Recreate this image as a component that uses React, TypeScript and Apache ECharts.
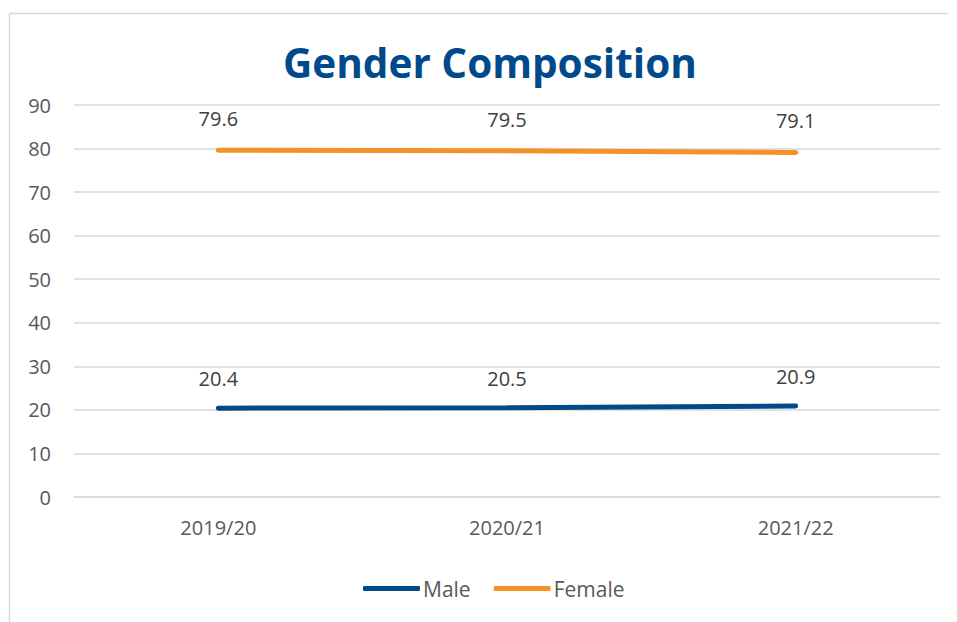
import React, { useEffect, useRef } from "react";
import * as echarts from "echarts";

const categories = ["2019/20", "2020/21", "2021/22"];
const maleValues = [20.4, 20.5, 20.9];
const femaleValues = [79.6, 79.5, 79.1];
const seriesNames = ["Male", "Female"];

const FONT = "'Open Sans', 'Noto Sans', sans-serif";

export default function App() {
  const ref = useRef<HTMLDivElement>(null);
  useEffect(() => {
    if (!ref.current) return;
    const chart = echarts.init(ref.current, null, { renderer: "svg" });
    chart.setOption({
      animation: false,
      backgroundColor: "#ffffff",
      title: {
        text: "Gender Composition",
        left: 278,
        top: 37,
        textStyle: { fontFamily: FONT, fontWeight: "bold", fontSize: 40.5, color: "#004A8C" },
      },
      graphic: [
        { type: "line", shape: { x1: 9.5, y1: 13.5, x2: 948, y2: 13.5 }, style: { stroke: "#d9d9d9", lineWidth: 1.5 } },
        { type: "line", shape: { x1: 9.5, y1: 13.5, x2: 9.5, y2: 622 }, style: { stroke: "#d9d9d9", lineWidth: 1.5 } },
      ],
      legend: {
        bottom: 18,
        left: 358,
        itemWidth: 57,
        itemHeight: 5,
        itemGap: 23,
        icon: "roundRect",
        textStyle: { fontFamily: FONT, fontSize: 21, color: "#595959", padding: [0, 0, 0, -2] },
        data: seriesNames,
      },
      grid: { left: 74, right: 17, top: 105, bottom: 125, containLabel: false },
      xAxis: {
        type: "category",
        data: categories,
        boundaryGap: true,
        axisLine: { lineStyle: { color: "#d9d9d9", width: 1.5 } },
        axisTick: { show: false },
        axisLabel: { margin: 20, fontFamily: FONT, fontSize: 20, color: "#595959" },
      },
      yAxis: {
        type: "value",
        min: 0,
        max: 90,
        interval: 10,
        axisLine: { show: false },
        axisTick: { show: false },
        splitLine: { lineStyle: { color: "#d9d9d9", width: 1.5 } },
        axisLabel: { margin: 23, fontFamily: FONT, fontSize: 20, color: "#595959" },
      },
      series: [
        {
          name: seriesNames[0],
          type: "line",
          data: maleValues,
          color: "#004A8C",
          showSymbol: true,
          symbol: "circle",
          symbolSize: 1,
          lineStyle: { width: 5, cap: "round", color: "#004A8C" },
          label: { show: true, position: "top", distance: 19, fontFamily: FONT, fontSize: 20, color: "#404040" },
        },
        {
          name: seriesNames[1],
          type: "line",
          data: femaleValues,
          color: "#F39325",
          showSymbol: true,
          symbol: "circle",
          symbolSize: 1,
          lineStyle: { width: 5, cap: "round", color: "#F39325" },
          label: { show: true, position: "top", distance: 21, fontFamily: FONT, fontSize: 20, color: "#404040" },
        },
      ],
    });
    return () => chart.dispose();
  }, []);
  return <div ref={ref} style={{ position: "absolute", left: 0, top: 0, width: 957, height: 622 }} />;
}
